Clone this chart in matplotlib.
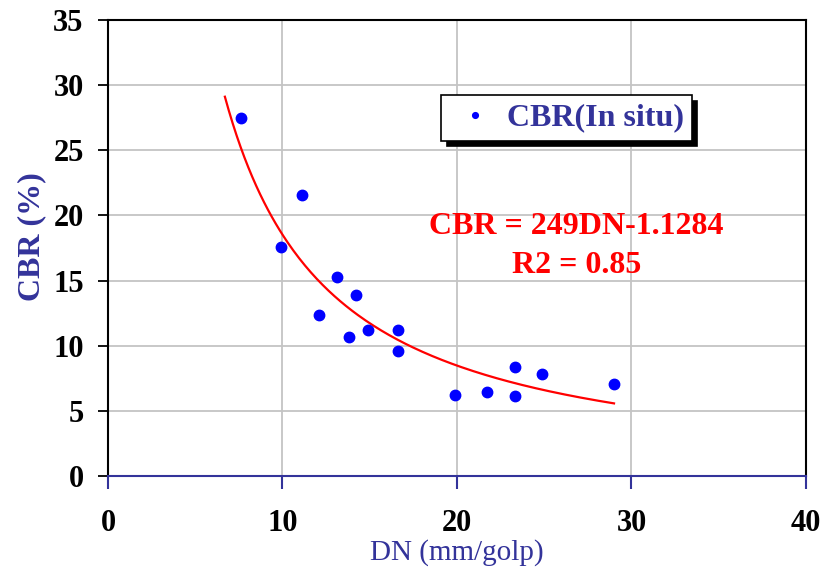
import numpy as np
import matplotlib
matplotlib.use("Agg")
import matplotlib.pyplot as plt

# field data
dn = [7.6, 11.1, 9.9, 13.1, 14.2, 12.1, 13.8, 14.9, 16.6, 16.6, 19.9, 21.7, 23.3, 23.3, 24.9, 29.0]
cbr = [27.5, 21.6, 17.6, 15.3, 13.9, 12.35, 10.7, 11.2, 11.2, 9.6, 6.2, 6.45, 8.4, 6.15, 7.8, 7.05]

# power trendline CBR = a * DN^b
fit_a = 249.0
fit_b = -1.1284
fit_range = (6.7, 29.0)

navy = "#33339a"
serif = ["Liberation Serif", "DejaVu Serif"]

fig = plt.figure(figsize=(8.28, 5.71), dpi=100)
ax = fig.add_axes([0.1304, 0.1664, 0.8430, 0.7986])

# trendline
xs = np.linspace(fit_range[0], fit_range[1], 200)
ax.plot(xs, fit_a * xs ** fit_b, color="red", lw=1.6, zorder=3)

# data points
ax.plot(dn, cbr, "o", color="blue", markersize=7.5, linestyle="none",
        zorder=4, label="CBR(In situ)")

ax.set_xlim(0, 40)
ax.set_ylim(0, 35)
ax.set_xticks([0, 10, 20, 30, 40])
ax.set_yticks(np.arange(0, 36, 5))
ax.grid(True, color="#c4c4c4", lw=1.3)
ax.set_axisbelow(True)

for s in ["left", "top", "right"]:
    ax.spines[s].set_color("black")
    ax.spines[s].set_linewidth(1.5)
ax.spines["bottom"].set_color(navy)
ax.spines["bottom"].set_linewidth(1.5)

ax.tick_params(axis="y", direction="out", length=7.5, width=1.3, color="black", pad=10)
ax.tick_params(axis="x", direction="out", length=9, width=1.5, color=navy, pad=15)
for lab in ax.get_xticklabels() + ax.get_yticklabels():
    lab.set_fontfamily(serif)
    lab.set_fontweight("bold")
    lab.set_fontsize(22)

# annotation of the fit
ax.text(0.671, 0.548, "CBR = 249DN-1.1284", transform=ax.transAxes, ha="center",
        va="center", color="red", fontsize=23, fontweight="bold", family=serif)
ax.text(0.671, 0.461, "R2 = 0.85", transform=ax.transAxes, ha="center",
        va="center", color="red", fontsize=23, fontweight="bold", family=serif)

leg = ax.legend(loc="center", bbox_to_anchor=(0.657, 0.785), frameon=True,
                fancybox=False, shadow={"color": "black", "alpha": 1, "ox": 4, "oy": -4},
                edgecolor="black", markerscale=0.55, handlelength=1.6,
                borderpad=0.25, handletextpad=0.2, borderaxespad=0,
                prop={"family": serif, "weight": "bold", "size": 23})
leg.get_frame().set_linewidth(1.2)
leg.get_texts()[0].set_color(navy)

fig.text(32 / 828, 1 - 237 / 571, "CBR (%)", rotation=90, ha="center", va="center",
         color=navy, fontsize=23, fontweight="bold", family=serif)
fig.text(457 / 828, 1 - 553 / 571, "DN (mm/golp)", ha="center", va="center",
         color=navy, fontsize=21, family=serif)

fig.savefig("out.png", dpi=100)
